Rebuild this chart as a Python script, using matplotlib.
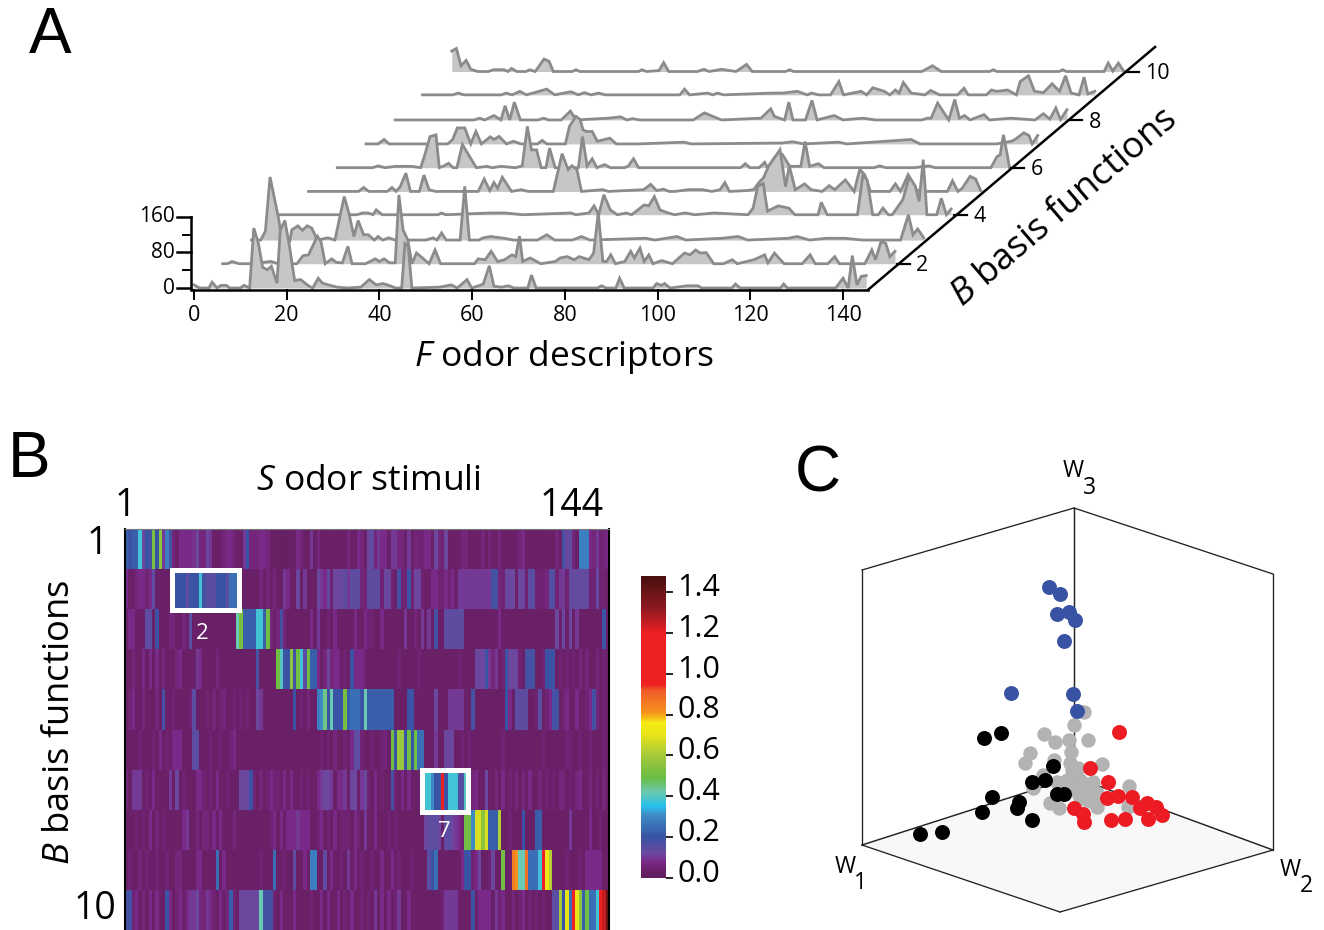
import numpy as np
import matplotlib
matplotlib.use("Agg")
import matplotlib.pyplot as plt
from matplotlib.colors import LinearSegmentedColormap
from matplotlib.patches import Rectangle, Polygon

plt.rcParams['font.family'] = ['Open Sans', 'DejaVu Sans']
plt.rcParams['mathtext.fontset'] = 'custom'
plt.rcParams['mathtext.rm'] = 'Open Sans'
plt.rcParams['mathtext.it'] = 'Open Sans:italic'

W, H = 1324, 930

# panel A: (descriptor, loading) vertices
row_1 = [(0,7),(1.2,0),(3.2,0),(3.9,13),(5,0),(5.8,6),(7,6),(7.7,0),(10,0),(10.8,6),(12,0),(12.9,135),(13.9,100),
         (14.8,47),(15.8,41),(16.7,49),(17.9,11),(18.6,130),(19.6,152),(20.6,94),(21.7,17),(23,19),(24.7,5),(25.6,0),
         (26.8,22),(27.7,11),(29.7,5),(30.9,2),(33,0),(36,2),(37.8,19),(39.3,7),(40.8,10),(42.3,5),(43.5,0),(44.8,0),
         (45.5,100),(46.2,94),(47,0),(53,2),(55.5,7),(56.8,0),(58.9,19),(59.9,0),(61.4,5),(62.4,9),(63.7,50),(64.7,4),
         (66.3,2),(67.8,5),(69,0),(72,0),(72.8,29),(73.8,0),(87,0),(87.9,5),(88.9,0),(91,0),(91.8,22),(92.8,0),(99,0),
         (99.8,10),(100.8,6),(101.5,10),(102.7,0),(106.4,5),(108.7,5),(109.5,0),(116,0),(116.8,9),(117.8,0),(126.5,0),
         (127.2,9),(128,0),(138.4,0),(140,22),(141.1,0),(142,73),(143,7),(143.9,26),(145,28)]
row_2 = [(0,0),(1,0),(2,5),(3.5,0),(5.8,0),(10.4,5),(12,0),(16,0),(17.3,18),(18.5,20),(20.4,62),(21.2,50),(22.1,0),
         (23.5,11),(24.5,3),(25.8,2),(27,39),(27.9,0),(30.8,0),(32.9,11),(33.8,5),(34.8,11),(36,2),(37.2,2),(38,155),
         (38.9,76),(39.9,54),(40.8,0),(41.8,24),(43.1,13),(44.5,0),(45.8,31),(47,0),(52,0),(54.3,0),(55.1,11),(56.6,9),
         (57.9,28),(59.3,5),(60.8,9),(62.4,20),(63.2,16),(64,62),(64.7,5),(66.3,13),(68.6,0),(71.7,5),(72.8,13),(74.3,16),
         (75.8,9),(76.9,16),(79,9),(80,24),(81,114),(82,5),(82.8,5),(83.7,20),(84.7,0),(86.7,5),(88,28),(88.8,13),(90,35),
         (90.9,5),(91.9,20),(92.8,0),(94.7,7),(97,0),(99.6,24),(100.8,20),(102,31),(103,24),(104.3,25),(105.9,0),(108,0),
         (109.9,9),(111,0),(114.6,9),(116.9,20),(117.6,2),(119,24),(121.1,0),(125,0),(126.7,20),(127.8,0),(130.5,0),
         (132,16),(133,0),(138.5,0),(140,31),(140.8,9),(142,50),(143,46),(143.9,16),(145,28)]
row_3 = [(0,0),(2,0),(3,20),(4,142),(5.9,46),(6.2,24),(8.3,0),(8.7,23),(10,32),(11,22),(12,32),(13,27),(14.2,0),
         (16.5,5),(18,0),(20,98),(21,61),(22.1,8),(23,44),(24.2,12),(25.2,12),(26.5,0),(27.3,8),(28.3,0),(29.6,5),(31,0),
         (37.6,0),(39.2,5),(40,0),(41,16),(42,0),(45,0),(46,121),(47,0),(49,0),(50,5),(51.6,8),(54.5,4),(56.5,0),(61.7,0),
         (63.7,12),(65.4,0),(69.2,0),(71.2,8),(73,0),(85,4),(87,0),(91.8,8),(93.7,0),(101.5,4),(105,8),(107,0),(115.8,4),
         (117.7,8),(120.4,0),(124,4),(128,4),(131.8,0),(139,0),(140,0),(141.7,57),(142.7,12),(143.7,25),(145,5)]
row_4 = [(0,0),(16.5,0),(17.8,4),(19,4),(20,0),(20.7,11),(22,0),(34,0),(34.8,4),(35.7,0),(45.4,4),(48.5,4),(52.3,0),
         (62.7,4),(63.8,0),(66.6,4),(67.7,20),(68.7,0),(69.8,45),(71.2,11),(72.7,0),(74.7,4),(75.8,0),(78.5,22),(79.5,20),
         (80.7,41),(81.9,11),(83.4,5),(85,0),(87.4,4),(89.4,0),(93.6,4),(100.9,0),(102,15),(103,64),(104.2,70),(105.1,8),
         (107.4,20),(109.7,15),(111,0),(116,0),(116.7,28),(118,0),(124.5,0),(125.7,90),(126.6,78),(127.8,0),(129,0),
         (130,15),(131.2,0),(132,0),(134.3,34),(135.7,86),(137,64),(137.8,30),(138.7,124),(139.5,0),(141.6,0),(142.6,37),
         (143.7,0),(144.7,13)]
row_5 = [(0,0),(10.8,0),(11.9,9),(13,0),(17,0),(18,9),(18.9,0),(19.8,11),(21,41),(22,0),(23.9,0),(24.9,37),(26,4),
         (27.4,0),(36.6,0),(37.9,28),(39.1,2),(40,20),(40.8,7),(41.8,32),(43.8,0),(45.9,4),(47.4,0),(52.8,0),(54.7,85),
         (56,49),(56.8,58),(57.9,49),(58.9,0),(63.5,4),(64.7,0),(72.3,4),(73.8,16),(75.1,2),(76.6,5),(77.8,0),(79,0),
         (82,4),(85,4),(87,0),(88.8,4),(89.8,20),(90.8,0),(94.6,2),(96,4),(97.3,22),(98.1,30),(99.2,56),(101.7,94),
         (102.9,11),(103.7,58),(105,4),(107,17),(108.4,4),(110.8,0),(112.3,13),(113.5,4),(115.8,26),(117.7,0),(118.9,50),
         (120,37),(121.2,0),(125.4,0),(126.6,17),(127.7,0),(129.3,37),(130.8,4),(133,0),(137.8,0),(138.9,24),(140.1,0),
         (141,7),(142.7,34),(143.9,28),(145,2)]
row_6 = [(0,0),(7.6,0),(8.8,4),(10.3,0),(12.6,3),(16,3),(18,0),(19,33),(20,70),(21.3,74),(22,0),(23,4),(24,10),(25,0),
         (25.8,0),(27,52),(30,0),(32.3,3),(33.4,0),(35.4,3),(38.4,0),(39.9,4),(41,93),(41.9,40),(43,40),(44,0),(45,0),
         (45.8,44),(47,0),(52,0),(52.9,70),(53.9,4),(55,20),(56,0),(57.7,7),(58.9,0),(62,0),(62.8,4),(63.9,20),(65,0),
         (87,0),(88,9),(89,0),(91,0),(92.2,12),(92.8,0),(94.5,25),(96,30),(97.6,3),(100,3),(100.9,59),(101.9,3),(103.8,9),
         (105,0),(115.8,0),(117,4),(118.3,0),(124.5,0),(127.6,4),(129,0),(141,0),(142.3,25),(143,29),(143.7,74),(144.6,25),
         (145,0)]
row_7 = [(0,0),(2.6,0),(3.9,10),(5,0),(15,0),(17.6,0),(18.7,10),(19.7,36),(21.3,36),(22.6,0),(23.7,28),(24.9,0),(26.8,16),
         (27.6,10),(28.7,17),(30.3,0),(31.8,6),(33.4,0),(37,0),(38,8),(39,0),(43,0),(43.9,40),(45.3,62),(46.2,55),(46.8,32),
         (47.5,28),(48.8,28),(49.9,6),(52.6,13),(54,0),(59,0),(68.6,4),(70.1,0),(89.8,2),(92,5),(94.4,0),(101.9,4),(103.7,0),
         (117.6,10),(119.5,0),(136,0),(139.2,6),(140,10),(141.9,25),(143,19),(143.7,0),(144.9,19)]
row_8 = [(0,0),(17,0),(18.2,4),(19.3,0),(21.3,10),(22.8,0),(23.7,32),(24.7,0),(25.7,40),(27,0),(30.8,0),(32,4),(33.1,0),
         (35.8,0),(37.8,20),(39,0),(46,4),(48.6,7),(50,0),(51.2,3),(52.7,0),(64.3,0),(66.7,16),(69.2,5),(70.4,0),(78.9,4),
         (81,25),(81.8,8),(84,0),(84.9,40),(85.8,0),(88.5,0),(89.9,44),(91,0),(94.7,10),(96.6,0),(100.9,4),(103.6,0),(113.6,0),
         (114.8,4),(115.6,4),(117,38),(119.4,0),(120.7,46),(121.7,4),(122.8,10),(124,0),(127,12),(128.2,0),(132.8,4),(138,0),
         (139.8,14),(141.2,2),(142.5,27),(143.5,1),(144.9,23)]
row_9 = [(0,0),(6.5,0),(7.7,4),(8.9,0),(17,0),(18,4),(19.3,0),(21,8),(22.4,0),(26.8,13),(28.5,0),(32,7),(33.6,0),(34.9,5),
         (36.4,0),(38,4),(39.4,0),(55.5,0),(56.5,13),(57.6,0),(61.5,4),(62.6,0),(63.6,4),(65,0),(75.4,4),(77.7,4),(80.8,8),
         (83,0),(83.9,4),(85.4,0),(88,0),(89.8,30),(90.8,0),(94.6,8),(95.8,0),(97.1,16),(99.6,8),(100.8,0),(102,11),(102.8,4),
         (103.7,28),(105.4,4),(108.4,0),(109.6,10),(111.5,0),(115.4,0),(116.8,15),(117.7,0),(121.6,0),(122.7,11),(123.8,8),
         (126.2,11),(128.1,0),(128.9,30),(130.7,43),(132,8),(133.9,5),(135.8,25),(137.4,8),(138.7,43),(139.9,4),(141.6,0),
         (142.7,40),(143.5,2),(145,8)]
row_10 = [(0,46),(1,52),(2,13),(3.1,25),(4.1,5),(5.6,0),(7.9,0),(9,4),(11.3,4),(12.1,0),(12.9,7),(14,0),(16,0),(16.8,4),
          (18,0),(19.9,28),(21,23),(21.9,0),(26,0),(26.8,4),(27.6,0),(40.3,0),(41,4),(42,0),(44.7,2),(45.7,20),(46.8,0),
          (53,0),(54.4,5),(55.5,0),(58.2,5),(61.3,0),(63.6,16),(64.8,0),(72,0),(72.9,4),(73.7,0),(101.4,0),(103.7,13),
          (105.6,0),(116,0),(116.8,4),(117.6,0),(131,0),(131.8,4),(132.6,0),(140.7,0),(141.6,19),(142.6,1),(143.8,19),(145,0)]
rows_a = [row_1, row_2, row_3, row_4, row_5, row_6, row_7, row_8, row_9, row_10]

# where each row sits on the page, in descriptor and loading units
row_shift_f = [0, 6.2, 12.4, 18.6, 24.7, 30.9, 37.1, 43.4, 49.3, 55.6]
row_shift_v = [0, 54.7, 108, 165, 217.5, 271, 324.5, 378.5, 435, 487.6]

f_ticks = [0, 20, 40, 60, 80, 100, 120, 140]
v_ticks = [0, 80, 160]
v_minor = [40, 120]
b_ticks = [2, 4, 6, 8, 10]

# panel B: loadings in hundredths, one list per basis function, 144 stimuli
s_1 = [22,20,22,22,38,12,20,18,52,20,55,10, 28,18,6,4,8,8,8,8,9,12,6,6, 12,10,4,4,4,6,8,8,5,4,4,10,
       20,6,6,6,8,8,6,3,2,2,2,2, 2,3,3,8,6,3,3,10,3,6,3,3, 4,4,3,4,3,3,6,4,3,8,6,4,
       12,14,6,10,8,8,4,10,10,6,6,4, 10,4,6,5,5,8,8,4,12,6,5,12, 4,3,4,4,6,6,3,3,4,4,6,3,
       6,4,4,6,3,3,3,4,4,6,8,3, 3,3,3,3,3,4,4,3,6,4,18,12, 14,6,4,28,28,28,8,6,10,5,6,8]
s_2 = [8,3,4,6,8,8,5,8,14,4,4,3, 3,3,20,20,20,20,14,20,20,20,38,18, 15,15,15,20,20,20,14,25,25,25,3,3,
       3,4,3,3,6,3,6,3,6,3,3,10, 8,4,3,12,3,10,3,3,3,12,10,8, 14,5,12,12,12,14,10,14,14,14,6,5,
       14,14,14,14,5,12,12,5,4,18,5,5, 20,5,12,12,5,4,4,8,8,5,5,8, 5,8,4,10,10,10,10,10,10,10,10,10,
       10,18,18,6,5,12,12,12,4,12,12,5, 15,15,5,5,5,6,16,16,5,10,10,5, 13,13,13,13,13,13,5,5,13,5,5,4]
s_3 = [4,8,8,3,4,4,14,15,4,20,3,4, 4,6,6,3,3,6,3,15,4,4,4,3, 3,3,3,3,3,3,3,3,3,42,52,22,
       22,22,22,38,38,22,50,6,3,6,18,6, 3,3,3,3,3,3,3,8,3,10,3,3, 5,3,8,3,4,3,3,3,8,3,3,8,
       5,5,3,3,8,3,3,3,3,3,3,10, 3,3,6,3,10,3,10,3,18,3,3,14, 14,14,14,14,14,3,3,3,3,3,3,3,
       3,3,3,8,3,3,3,3,3,3,3,3, 3,3,3,3,3,3,3,3,12,4,12,4, 12,4,10,4,3,3,3,3,3,3,20,4]
s_4 = [3,3,6,3,3,8,3,8,3,8,3,6, 3,3,3,6,8,3,3,3,3,10,8,3, 3,3,3,6,3,3,3,3,3,3,3,3,
       3,3,3,18,3,3,3,3,3,50,40,20, 20,55,18,50,38,15,50,22,22,8,4,6, 12,6,8,8,3,5,3,20,8,8,8,5,
       3,3,3,3,3,3,3,3,3,5,3,3, 3,3,3,5,3,3,3,3,3,3,3,3, 3,3,3,5,3,3,3,3,12,12,12,20,
       10,6,10,3,5,20,12,12,12,5,3,18, 18,18,3,3,5,20,20,20,3,5,3,5, 3,5,3,6,3,6,3,3,6,3,5,3]
s_5 = [3,5,8,3,3,6,3,3,3,6,3,18, 4,3,5,3,3,3,3,5,15,3,3,3, 5,3,6,3,5,6,3,4,5,3,5,3,
       5,3,3,12,10,3,3,3,3,3,3,3, 3,3,20,3,5,3,6,3,3,28,30,45, 20,42,20,20,20,52,22,25,25,25,20,42,
       22,22,22,22,22,22,22,22,3,3,3,3, 20,20,3,4,4,3,3,3,12,3,3,3, 10,10,10,10,10,4,3,18,3,3,3,3,
       3,3,3,3,3,20,8,3,14,14,14,14, 3,3,5,15,3,5,8,18,18,3,5,8, 3,3,8,3,3,5,8,18,6,3,5,3]
s_6 = [3,3,3,3,5,3,3,3,5,3,8,3, 5,3,8,8,8,3,3,3,15,15,3,3, 3,5,3,3,5,3,3,5,8,3,3,3,
       3,3,3,3,3,3,3,3,3,3,3,3, 3,3,3,3,3,3,3,3,3,3,5,3, 5,3,6,3,3,5,3,8,14,14,5,3,
       3,5,3,3,5,6,3,50,20,58,58,20, 50,20,50,25,25,3,3,3,10,3,3,12, 12,12,3,3,5,3,5,3,3,3,3,3,
       3,3,3,3,5,3,3,3,3,3,3,3, 3,3,3,3,5,3,3,3,3,3,3,5, 5,3,3,5,3,3,5,3,3,3,5,3]
s_7 = [6,3,10,10,10,3,5,3,8,3,3,3, 3,10,3,12,3,5,3,3,3,8,8,5, 3,5,3,8,3,3,5,3,3,3,12,12,
       12,20,5,3,6,3,5,8,5,5,3,8, 3,8,3,3,5,3,5,3,3,8,10,12, 12,10,3,8,8,10,4,12,12,4,10,12,
       5,3,8,3,5,3,3,18,5,3,8,3, 8,4,3,4,10,38,38,30,20,20,100,20, 38,38,38,16,16,40,40,6,8,3,4,12,
       4,3,6,3,8,3,5,3,6,3,6,3, 8,3,3,6,3,5,3,5,3,6,6,3, 5,3,6,8,4,3,6,3,5,3,6,3]
s_8 = [3,3,3,5,3,5,3,8,3,6,3,5, 3,3,3,3,3,8,10,3,3,6,3,6, 6,3,8,3,8,3,3,3,6,3,3,3,
       3,3,3,3,3,3,3,5,8,3,8,3, 8,8,8,10,8,8,8,3,3,5,8,3, 5,3,8,3,5,5,5,3,8,5,3,10,
       3,3,8,3,3,3,5,3,5,3,3,3, 3,3,3,3,3,12,14,14,14,12,4,14, 15,12,10,8,5,50,50,30,68,68,55,68,
       22,22,22,62,3,3,5,3,3,3,20,3, 3,3,22,22,3,3,3,3,3,3,3,3, 10,3,3,3,3,3,8,3,3,5,3,3]
s_9 = [3,5,3,3,6,3,5,3,3,5,3,3, 5,3,3,6,6,3,3,3,3,8,8,3, 3,3,3,25,3,8,3,3,3,3,3,3,
       3,3,3,3,5,3,3,3,25,3,3,5, 3,3,14,3,3,8,3,28,28,3,3,14, 3,8,3,3,5,3,10,3,8,3,5,3,
       3,5,3,3,8,3,3,8,3,5,3,3, 3,5,3,3,3,3,15,20,25,3,3,4, 3,3,3,3,8,20,20,5,8,12,3,3,
       5,12,3,3,50,4,4,85,82,42,42,88, 25,25,25,38,95,72,62,4,3,3,3,5, 3,3,3,5,3,8,8,8,8,8,3,4]
s_10 = [18,18,5,8,3,6,3,8,3,8,4,3, 20,8,3,5,8,4,8,10,10,12,6,6, 10,8,5,3,8,4,6,22,5,3,12,12,
        12,12,12,12,42,18,18,18,5,3,8,3, 3,3,8,3,3,3,3,5,3,3,8,3, 8,3,3,8,3,5,3,8,3,3,5,3,
        5,3,10,3,8,3,8,3,5,10,3,3, 8,3,3,3,3,3,3,3,3,3,5,10, 10,10,10,4,3,3,4,20,4,8,8,8,
        8,3,10,5,8,3,3,6,3,5,8,3, 5,3,5,3,5,3,3,15,15,60,20,70, 25,95,70,55,22,50,25,25,38,95,125,140]
rows_b = [s_1, s_2, s_3, s_4, s_5, s_6, s_7, s_8, s_9, s_10]

cbar_ticks = [0.0, 0.2, 0.4, 0.6, 0.8, 1.0, 1.2, 1.4]
cmap_levels = [0.0, 0.03, 0.08, 0.12, 0.2, 0.25, 0.31, 0.35, 0.42, 0.49, 0.6, 0.7, 0.76, 0.81, 0.92, 0.95, 1.2, 1.33, 1.48]
cmap_colors = ['#611f60', '#692066', '#7b2a8a', '#6a4aa0', '#3953a4', '#3a6fb5', '#3f8fc9', '#27c1ee', '#6cc9b0',
               '#6bbd45', '#a5c93a', '#e8e31a', '#f6eb14', '#f7941e', '#f05a28', '#ee2024', '#ee2024', '#8a1a20', '#4a0f10']

# panel C: projected positions of the points
gray_x = [1084,1074,1044,1055,1069,1088,1071,1030,1025,1054,1070,1102,1078,1043,1033,1057,1067,1080,1093,1073,1083,1097,1060,
          1087,1097,1050,1059,1129,1128,1080,1070,1088,1072,1093,1077,1083]
gray_y = [712,725,734,742,740,740,752,753,763,760,763,764,768,775,788,782,780,780,782,790,790,793,787,
          800,807,803,808,786,807,798,785,785,770,802,783,783]
black_x = [920,942,982,992,1017,1019,1032,1032,1045,1053,984,1001,1057,1064]
black_y = [834,832,812,797,808,802,820,782,780,766,738,733,794,794]
red_x = [1119,1090,1108,1107,1118,1132,1147,1140,1156,1162,1148,1125,1111,1084,1083,1074]
red_y = [732,768,782,798,796,797,803,808,807,815,819,819,820,822,814,808]
blue_x = [1011,1073,1077,1049,1060,1057,1069,1075,1064]
blue_y = [693,694,711,587,594,614,612,620,641]

cube_top = (1074, 508)
cube_tl = (862, 570)
cube_tr = (1273, 574)
cube_bl = (862, 845)
cube_br = (1273, 850)
cube_bottom = (1060, 912)
cube_center = (1074, 777)


def px_axes(fig, left, top, right, bottom):
    return fig.add_axes([left / W, 1 - bottom / H, (right - left) / W, (bottom - top) / H])


def label(fig, x, y, s, size, **kw):
    kw.setdefault('ha', 'center')
    kw.setdefault('va', 'center')
    return fig.text(x / W, 1 - y / H, s, fontsize=size, **kw)


fig = plt.figure(figsize=(W / 100, H / 100), dpi=100)

# ---- A: stacked profiles
ax_a = px_axes(fig, 0, 0, W, 400)
ax_a.set_xlim(-194 / 4.636, (W - 194) / 4.636)
ax_a.set_ylim((288 - 400) / 0.444, 288 / 0.444)
ax_a.axis('off')

for i in reversed(range(10)):
    f = np.array([p[0] for p in rows_a[i]]) + row_shift_f[i]
    v = np.array([p[1] for p in rows_a[i]]) + row_shift_v[i]
    z = 20 - i
    ax_a.fill_between(f, row_shift_v[i], v, color='#c6c6c6', lw=0, zorder=z)
    ax_a.plot(f, v, color='#8b8b8b', lw=2.0, zorder=z + 0.5, solid_joinstyle='miter')

ax_a.plot([-0.7, -0.7], [0, 160], color='k', lw=1.8, zorder=30)
ax_a.plot([-0.7, 145.4], [-4, -4], color='k', lw=1.8, zorder=30)
ax_a.plot([145.4, 207.3], [-4, 542.8], color='k', lw=1.8, zorder=30)
for t in v_ticks:
    ax_a.plot([-3.6, -0.7], [t, t], color='k', lw=1.8, zorder=30)
    ax_a.text(-4.2, t, str(t), ha='right', va='center', fontsize=15, zorder=31)
for t in v_minor:
    ax_a.plot([-2.4, -0.7], [t, t], color='k', lw=1.4, zorder=30)
for t in f_ticks:
    ax_a.plot([t, t], [-4, -24], color='k', lw=1.4, zorder=30)
    ax_a.text(t, -61, str(t), ha='center', va='center', fontsize=15.5)
for b in b_ticks:
    base_f = 145 + row_shift_f[b - 1]
    base_v = row_shift_v[b - 1]
    ax_a.plot([base_f + 0.4, base_f + 3.2], [base_v, base_v], color='k', lw=1.6, zorder=30)
    ax_a.text(base_f + 4.6, base_v - 5, str(b), ha='left', va='center', fontsize=15.5)

label(fig, 564, 357, '$F$ odor descriptors', 25.5)
label(fig, 1064, 208, '$B$ basis functions', 26.2, rotation=40.5, rotation_mode='anchor')
label(fig, 50, 36, 'A', 46, family='Liberation Sans')
label(fig, 29, 460, 'B', 46, family='Liberation Sans')
label(fig, 818, 474, 'C', 46, family='Liberation Sans')

# ---- B: heatmap
cmap = LinearSegmentedColormap.from_list('loading', [(l / 1.48, c) for l, c in zip(cmap_levels, cmap_colors)])
ax_b = px_axes(fig, 125, 529, 609, 930)
data_b = np.array(rows_b) / 100.0
ax_b.pcolormesh(np.arange(145), np.arange(11), data_b, cmap=cmap, vmin=0, vmax=1.48)
ax_b.set_ylim(10, 0)
ax_b.set_xticks([])
ax_b.set_yticks([])
for side in ['left', 'right']:
    ax_b.spines[side].set_linewidth(1.5)
ax_b.spines['top'].set_color('#777777')
ax_b.spines['top'].set_linewidth(0.8)
ax_b.spines['bottom'].set_visible(False)
ax_b.add_patch(Rectangle((13.9, 1.01), 19.9, 1.02, fill=False, ec='white', lw=3.6, zorder=5, clip_on=False))
ax_b.add_patch(Rectangle((88.5, 6.02), 13.6, 1.03, fill=False, ec='white', lw=3.6, zorder=5, clip_on=False))
ax_b.text(23, 2.6, '2', color='white', ha='center', va='center', fontsize=16)
ax_b.text(95.1, 7.55, '7', color='white', ha='center', va='center', fontsize=16)

label(fig, 368, 481, '$S$ odor stimuli', 25.5)
label(fig, 125, 506, '1', 27)
label(fig, 572, 506, '144', 27)
label(fig, 97, 544, '1', 27)
label(fig, 95, 909, '10', 27)
label(fig, 60, 722, '$B$ basis functions', 26.2, rotation=90)

# ---- colour bar
ax_cb = px_axes(fig, 641, 576, 666, 878)
ax_cb.imshow(np.linspace(1.478, 0, 256).reshape(-1, 1), cmap=cmap, vmin=0, vmax=1.48, aspect='auto',
             extent=[0, 1, 0, 1.478])
ax_cb.set_xticks([])
ax_cb.yaxis.tick_right()
ax_cb.set_yticks(cbar_ticks)
ax_cb.set_yticklabels([])
ax_cb.tick_params(axis='y', length=5, width=1.2)
for t in cbar_ticks:
    ax_cb.text(1.45, t + 0.02, '%.1f' % t, ha='left', va='center', fontsize=22)
for side in ax_cb.spines:
    ax_cb.spines[side].set_visible(False)

# ---- C: cube and points
ax_c = px_axes(fig, 780, 440, W, H)
ax_c.set_xlim(780, W)
ax_c.set_ylim(H, 440)
ax_c.axis('off')
ax_c.add_patch(Polygon([cube_bl, cube_center, cube_br, cube_bottom], closed=True, fc='#f8f8f8', ec='none', zorder=1))
for a, b in [(cube_tl, cube_top), (cube_top, cube_tr), (cube_tl, cube_bl), (cube_tr, cube_br),
             (cube_bl, cube_bottom), (cube_bottom, cube_br)]:
    ax_c.plot([a[0], b[0]], [a[1], b[1]], color='#222222', lw=0.95, zorder=2)
for a, b in [(cube_top, cube_center), (cube_bl, cube_center), (cube_center, cube_br)]:
    ax_c.plot([a[0], b[0]], [a[1], b[1]], color='#222222', lw=1.05, zorder=2)

ax_c.scatter(gray_x, gray_y, s=108, color='#b3b3b3', lw=0, zorder=3)
ax_c.scatter(black_x, black_y, s=116, color='black', lw=0, zorder=4)
ax_c.scatter(red_x, red_y, s=116, color='#ed1c24', lw=0, zorder=5)
ax_c.scatter(blue_x, blue_y, s=116, color='#3953a4', lw=0, zorder=6)

label(fig, 1073, 471, 'W', 16.5)
label(fig, 1090, 488, '3', 16.5)
label(fig, 845, 867, 'W', 16.5)
label(fig, 860, 883, '1', 16.5)
label(fig, 1290, 870, 'W', 16.5)
label(fig, 1306, 886, '2', 16.5)

fig.savefig('out.png', dpi=100)
